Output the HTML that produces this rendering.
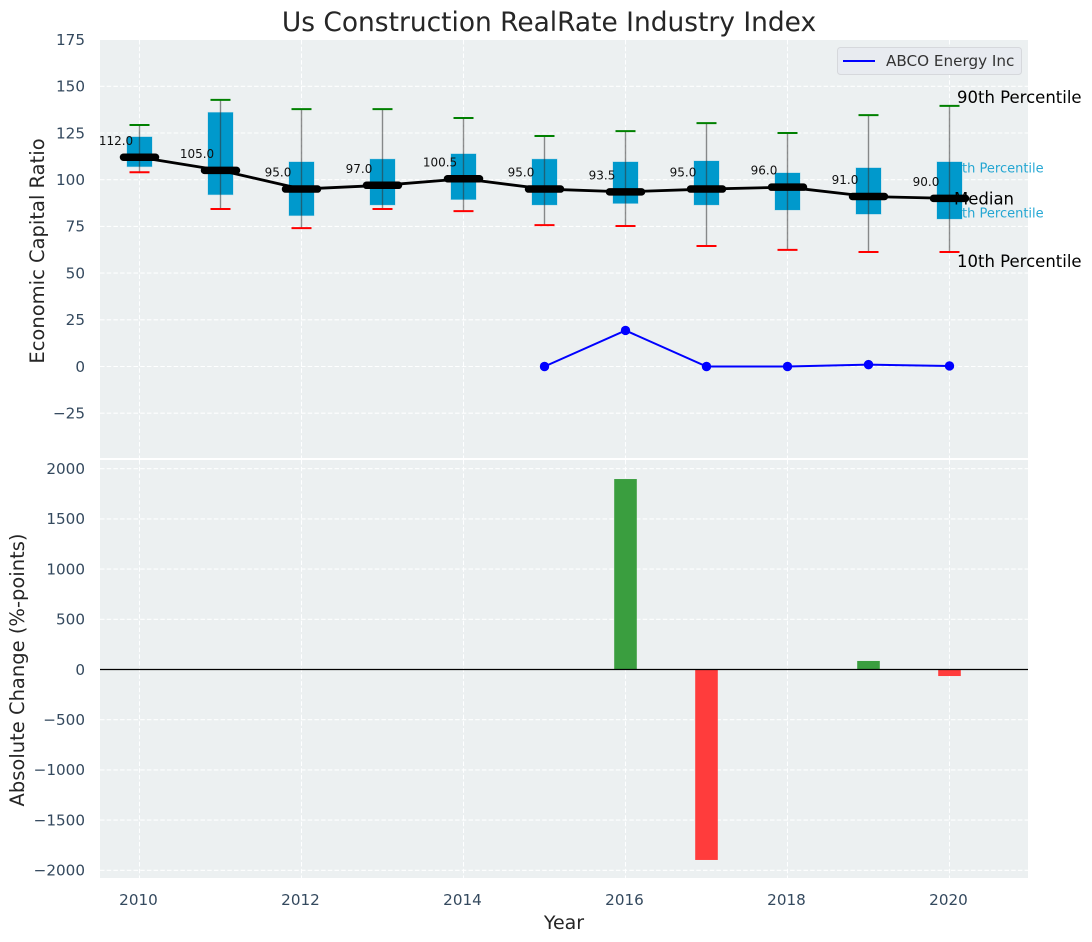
<!DOCTYPE html>
<html lang="en">
<head>
<meta charset="utf-8">
<title>Us Construction RealRate Industry Index</title>
<style>
html,body{margin:0;padding:0;background:#fff;width:1092px;height:942px;overflow:hidden}
svg{display:block;font-family:"DejaVu Sans","Liberation Sans",sans-serif}
</style>
</head>
<body>
<svg id="chart" xmlns="http://www.w3.org/2000/svg" width="1092" height="942" viewBox="0 0 1092 942">
<text x="549" y="31" font-size="26.45" fill="#262626" text-anchor="middle">Us Construction RealRate Industry Index</text>
<text transform="translate(44,251) rotate(-90)" font-size="19.5" fill="#262626" text-anchor="middle">Economic Capital Ratio</text>
<text transform="translate(24,670) rotate(-90)" font-size="19.5" fill="#262626" text-anchor="middle">Absolute Change (%-points)</text>
<text x="564" y="929" font-size="19" fill="#262626" text-anchor="middle">Year</text>
</svg>
<script>
const years = [2010,2011,2012,2013,2014,2015,2016,2017,2018,2019,2020];
const medianValues = [112,105,95,97,100.5,95,93.5,95,96,91,90];
const medianLabels = ["112.0","105.0","95.0","97.0","100.5","95.0","93.5","95.0","96.0","91.0","90.0"];
const p90Values = [129.3,142.7,137.8,137.8,133,123.4,126,130.3,125,134.6,139.5];
const p75Values = [122.9,136,109.5,111,113.8,111,109.5,110,103.6,106.3,109.5];
const p25Values = [107,92,80.8,86.5,89.4,86.5,87.3,86.5,83.8,81.6,79];
const p10Values = [104,84.3,74.1,84.3,83.2,75.7,75.2,64.5,62.4,61.3,61.3];
const companyYears = [2015,2016,2017,2018,2019,2020];
const companyValues = [0,19.3,0,0,1,0.3];
const changeValues = [0,0,0,0,0,0,1897,-1897,0,85,-65];
const topTicks = [175,150,125,100,75,50,25,0,-25];
const bottomTicks = [2000,1500,1000,500,0,-500,-1000,-1500,-2000];
const yearTicks = [2010,2012,2014,2016,2018,2020];

const svgNS = "http://www.w3.org/2000/svg";
const svg = document.getElementById("chart");
const left = 100, right = 1028, topA = 40, topB = 458, botA = 460, botB = 878;
const xPos = v => 139.5 + (v - 2010) * 81;
const yTop = v => 366.5 - v * 1.868;
const yBot = v => 669.5 - v * 0.1004;
const fmt = v => v < 0 ? "\u2212" + Math.abs(v) : String(v);

function mk(tag, attrs, text, parent) {
  const el = document.createElementNS(svgNS, tag);
  for (const k in attrs) el.setAttribute(k, attrs[k]);
  if (text !== undefined) el.textContent = text;
  (parent || svg).appendChild(el);
  return el;
}

/* panels */
let panelTop = mk("rect", {x:left,y:topA,width:right-left,height:topB-topA,fill:"#ecf0f1"});


let panelBot = mk("rect", {x:left,y:botA,width:right-left,height:botB-botA,fill:"#ecf0f1"});



/* grid + ticks */
const gridStyle = {stroke:"#ffffff","stroke-width":1.1,"stroke-dasharray":"4.5 2.2",fill:"none",opacity:0.95};
topTicks.forEach(t => {
  const y = yTop(t);
  if (t !== 175) {
    let g = mk("line", Object.assign({x1:left,x2:right,y1:y,y2:y}, gridStyle));
    
    
  }
  let l = mk("text", {x:85,y:y+5.3,"font-size":15.2,fill:"#34495e","text-anchor":"end"}, fmt(t));
  
  
});
bottomTicks.forEach(t => {
  const y = yBot(t);
  let g = mk("line", Object.assign({x1:left,x2:right,y1:y,y2:y}, gridStyle));
  
  
  let l = mk("text", {x:85,y:y+5.3,"font-size":15.2,fill:"#34495e","text-anchor":"end"}, fmt(t));
  
  
});
yearTicks.forEach(t => {
  const x = xPos(t);
  let g1 = mk("line", Object.assign({x1:x,x2:x,y1:topA,y2:topB}, gridStyle));
  
  
  let g2 = mk("line", Object.assign({x1:x,x2:x,y1:botA,y2:botB}, gridStyle));
  
  
  let l = mk("text", {x:x-1,y:905,"font-size":15.2,fill:"#34495e","text-anchor":"middle"}, String(t));
  
  
});

/* percentile captions hidden behind the last box */
const last = years.length - 1;
const lx = xPos(years[last]);
let cap75 = mk("text", {x:lx-4,y:yTop(p75Values[last])+10.5,"font-size":13,fill:"#0099cc","fill-opacity":0.85}, "75th Percentile");


let cap25 = mk("text", {x:lx-4,y:yTop(p25Values[last])-1.5,"font-size":13,fill:"#0099cc","fill-opacity":0.85}, "25th Percentile");



/* boxes and whiskers */
years.forEach((yr, i) => {
  const x = xPos(yr);
  let box = mk("rect", {x:x-12.5,y:yTop(p75Values[i]),width:25,height:yTop(p25Values[i])-yTop(p75Values[i]),fill:"#0099cc",stroke:"#0099cc","stroke-opacity":0.25,"stroke-width":1});
  
  
  let wh = mk("line", {x1:x,x2:x,y1:yTop(p90Values[i]),y2:yTop(p10Values[i]),stroke:"#333333","stroke-opacity":0.55,"stroke-width":1.4});
  
  
  let capHi = mk("line", {x1:x-10,x2:x+10,y1:yTop(p90Values[i]),y2:yTop(p90Values[i]),stroke:"#008000","stroke-width":2});
  
  
  let capLo = mk("line", {x1:x-10,x2:x+10,y1:yTop(p10Values[i]),y2:yTop(p10Values[i]),stroke:"#ff0000","stroke-width":2});
  
  
});

/* median line */
let medLine = mk("polyline", {points:years.map((yr,i)=>xPos(yr)+","+yTop(medianValues[i])).join(" "),fill:"none",stroke:"#000000","stroke-width":2.8,"stroke-linejoin":"round"});


years.forEach((yr, i) => {
  const x = xPos(yr), y = yTop(medianValues[i]);
  let m = mk("line", {x1:x-16,x2:x+16,y1:y,y2:y,stroke:"#000000","stroke-width":7.5,"stroke-linecap":"round"});
  
  
  let l = mk("text", {x:x-23.5,y:y-12.5,"font-size":12,fill:"#111111","text-anchor":"middle"}, medianLabels[i]);
  
  
});

/* company series */
let coLine = mk("polyline", {points:companyYears.map((yr,i)=>xPos(yr)+","+yTop(companyValues[i])).join(" "),fill:"none",stroke:"#0000ff","stroke-width":2});


companyYears.forEach((yr, i) => {
  let p = mk("circle", {cx:xPos(yr),cy:yTop(companyValues[i]),r:4.7,fill:"#0000ff"});
  
  
});

/* percentile annotations */
let ann90 = mk("text", {x:957,y:yTop(p90Values[last])-3,"font-size":16.5,fill:"#000000"}, "90th Percentile");


let annMed = mk("text", {x:954,y:yTop(medianValues[last])+6,"font-size":16.5,fill:"#000000"}, "Median");


let ann10 = mk("text", {x:957,y:yTop(p10Values[last])+15,"font-size":16.5,fill:"#000000"}, "10th Percentile");



/* legend */
let legBox = mk("rect", {x:837.5,y:47.5,width:184,height:27,rx:3,fill:"#e8ebf0",stroke:"#d6d8dc","stroke-width":1});


let legLine = mk("line", {x1:843,x2:875,y1:61,y2:61,stroke:"#0000ff","stroke-width":2});


let legText = mk("text", {x:886,y:66,"font-size":15.2,fill:"#333333"}, "ABCO Energy Inc");



/* change bars */
years.forEach((yr, i) => {
  const v = changeValues[i];
  if (v === 0) return;
  const y0 = yBot(0), y1 = yBot(v);
  let b = mk("rect", {x:xPos(yr)-11.3,y:Math.min(y0,y1),width:22.6,height:Math.abs(y1-y0),fill:v>0?"#3a9e3f":"#ff3c3c"});
  
  
});
let zero = mk("line", {x1:left,x2:right,y1:yBot(0),y2:yBot(0),stroke:"#000000","stroke-width":1.2});


</script>
</body>
</html>
